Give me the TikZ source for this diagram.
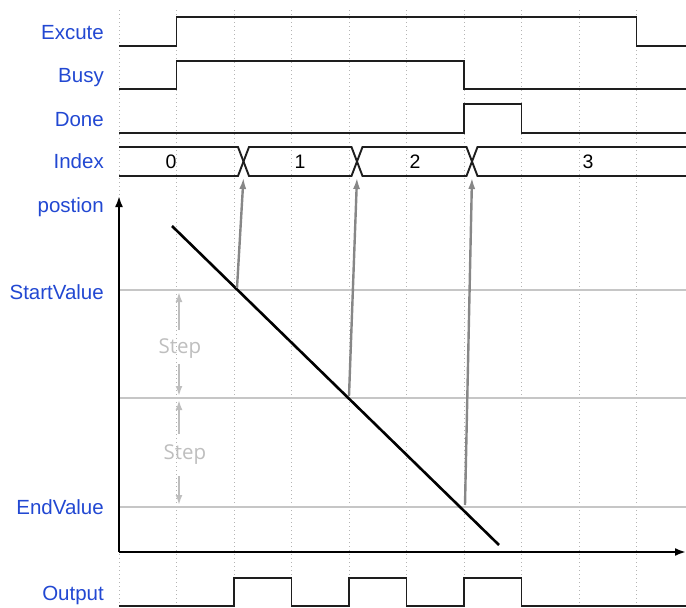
\documentclass[tikz,border=0pt]{standalone}
\usepackage{fontspec}
\setmainfont{Liberation Sans}
\newfontfamily\stepfont{Open Sans}
\usetikzlibrary{arrows.meta}
\definecolor{labelblue}{RGB}{34,72,210}
\definecolor{arrowgray}{RGB}{135,135,135}
\definecolor{levelgray}{RGB}{198,198,198}
\definecolor{stepgray}{RGB}{190,190,190}
\definecolor{gridgray}{RGB}{180,180,180}
\definecolor{sigcol}{RGB}{30,30,30}
\begin{document}
\begin{tikzpicture}[x=1pt,y=-1pt,
  lbl/.style={anchor=base east,text=labelblue,font=\fontsize{20.5}{24}\selectfont,inner sep=0pt},
  idx/.style={anchor=base,font=\fontsize{19.5}{23}\selectfont,inner sep=0pt},
  steplbl/.style={anchor=base,text=stepgray,font=\stepfont\fontsize{20.5}{24}\selectfont,inner sep=0pt},
  gridline/.style={gridgray,line width=0.9pt,dash pattern=on 1pt off 3pt},
  sig/.style={sigcol,line width=1.9pt,line join=miter},
  level/.style={levelgray,line width=2.6pt},
  axis/.style={black,line width=2.6pt,-{Latex[length=11pt,width=8pt]}},
  ramp/.style={black,line width=2.6pt},
  trigger/.style={arrowgray,line width=2.4pt,-{Latex[length=12pt,width=7pt]}},
  stepdim/.style={stepgray,line width=2.2pt,-{Latex[length=10pt,width=7pt]}}]
\useasboundingbox (0,0) rectangle (686,608);

% dotted time grid
\foreach \k in {0,...,9}
  \draw[gridline] ({119+57.5*\k},10) -- ({119+57.5*\k},608);

% signal names
\node[lbl] (lexec) at (104,39) {Excute};
\node[lbl] (lbusy) at (104,82) {Busy};
\node[lbl] (ldone) at (104,126) {Done};
\node[lbl] (lindex) at (104,168) {Index};
\node[lbl] (lpos) at (104,212) {postion};
\node[lbl] (lstart) at (104,299) {StartValue};
\node[lbl] (lend) at (104,514) {EndValue};
\node[lbl] (lout) at (104,600) {Output};

% digital signals
\draw[sig] (119,46) -- (176.5,46) -- (176.5,17) -- (636.5,17) -- (636.5,46) -- (686,46);
\draw[sig] (119,89) -- (176.5,89) -- (176.5,61) -- (464,61) -- (464,89) -- (686,89);
\draw[sig] (119,133) -- (464,133) -- (464,104) -- (521.5,104) -- (521.5,133) -- (686,133);

% index bus
\draw[sig] (119,147) -- (238,147) -- (249,176) -- (351.5,176) -- (362.5,147)
  -- (466.5,147) -- (477.5,176) -- (686,176);
\draw[sig] (119,176) -- (238,176) -- (249,147) -- (351.5,147) -- (362.5,176)
  -- (466.5,176) -- (477.5,147) -- (686,147);
\coordinate (x1) at (243.5,177);
\coordinate (x2) at (357,177);
\coordinate (x3) at (472,177);
\node[idx] (i0) at (171,168) {0};
\node[idx] (i1) at (300,168) {1};
\node[idx] (i2) at (415,168) {2};
\node[idx] (i3) at (588,168) {3};

% output pulses
\draw[sig] (119,606) -- (234,606) -- (234,578) -- (291.5,578) -- (291.5,606)
  -- (349,606) -- (349,578) -- (406.5,578) -- (406.5,606)
  -- (464,606) -- (464,578) -- (521.5,578) -- (521.5,606) -- (686,606);

% position levels
\draw[level] (119,290) -- (686,290);
\draw[level] (119,398) -- (686,398);
\draw[level] (119,507) -- (686,507);

% axes
\coordinate (origin) at (119,552);
\coordinate (ytop) at (119,196);
\coordinate (xend) at (686,552);
\draw[axis] (origin) -- (ytop);
\draw[axis] (origin) -- (xend);

% falling position ramp
\coordinate (r0) at (172,226);
\coordinate (r1) at (499,545);
\draw[ramp] (r0) -- (r1);

% level crossings trigger the index change
\coordinate (p1) at (237,288);
\coordinate (p2) at (349,396);
\coordinate (p3) at (465,505);
\draw[trigger] (p1) -- (x1);
\draw[trigger] (p2) -- (x2);
\draw[trigger] (p3) -- (x3);

% step size markers
\coordinate (s1a) at (179,330);
\coordinate (s1b) at (179,292);
\coordinate (s1c) at (179,364);
\coordinate (s1d) at (179,396);
\coordinate (s2a) at (179,434);
\coordinate (s2b) at (179,400);
\coordinate (s2c) at (179,476);
\coordinate (s2d) at (179,505);
\draw[stepdim] (s1a) -- (s1b);
\draw[stepdim] (s1c) -- (s1d);
\draw[stepdim] (s2a) -- (s2b);
\draw[stepdim] (s2c) -- (s2d);
\node[steplbl] (step1) at (180,353) {Step};
\node[steplbl] (step2) at (185,459) {Step};
\end{tikzpicture}
\end{document}
